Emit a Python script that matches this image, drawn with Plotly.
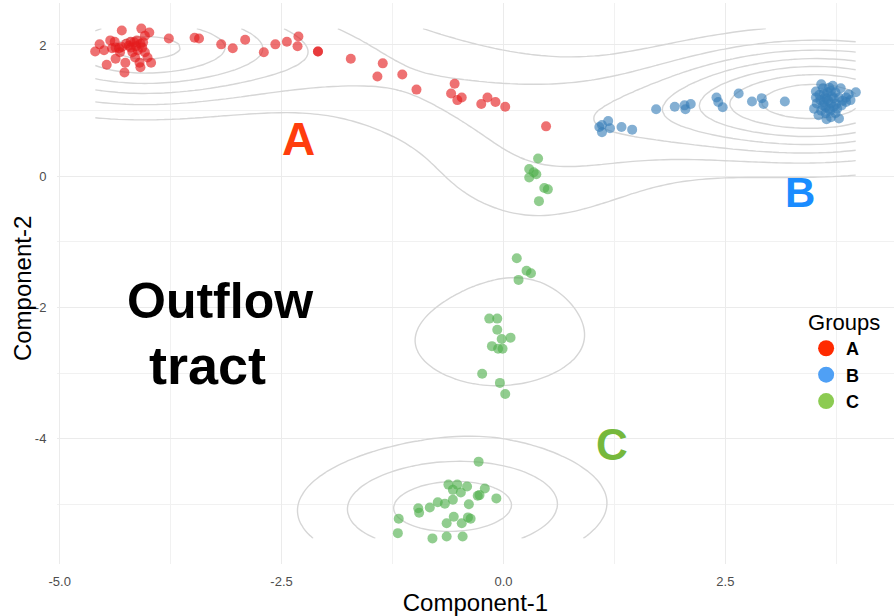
import numpy as np
import plotly.graph_objects as go

# ---------------- data ----------------
a_x = [-4.30, -4.08, -3.99, -4.04, -3.77, -4.55, -4.60, -4.43, -4.38, -4.37, -4.33, -4.22,
       -4.16, -4.13, -4.09, -4.18, -4.15, -4.10, -4.09, -4.04, -4.01, -3.97, -4.26, -4.37,
       -4.47, -4.27, -4.41, -4.20, -4.32, -4.07, -4.50, -4.14, -4.25, -4.12, -4.20, -4.06,
       -4.30,
       -3.48, -3.43, -3.18, -3.05, -2.91, -2.70, -2.57, -2.44, -2.31, -2.32, -2.09, -2.09,
       -1.72, -1.36, -1.42, -1.14, -0.98, -0.55, -0.59, -0.47, -0.52, -0.25, -0.18, -0.09,
       0.02, 0.48]
a_y = [2.22, 2.25, 2.19, 2.14, 2.10, 2.01, 1.90, 2.07, 2.05, 1.96, 1.95, 1.99,
       2.04, 2.07, 2.02, 1.89, 1.81, 1.73, 1.66, 1.89, 1.81, 1.73, 1.73, 1.79,
       1.70, 1.58, 1.95, 1.96, 1.89, 1.96, 1.92, 1.98, 2.02, 1.92, 2.05, 2.04,
       1.97,
       2.11, 2.10, 2.01, 1.95, 2.08, 1.89, 2.01, 2.05, 2.13, 1.98, 1.90, 1.90,
       1.79, 1.72, 1.52, 1.55, 1.32, 1.41, 1.26, 1.20, 1.16, 1.10, 1.20, 1.13,
       1.06, 0.76]

b_x = [1.08, 1.11, 1.18, 1.20, 1.11, 1.33, 1.45, 1.72, 1.93, 2.04, 2.11, 2.05, 2.40, 2.42,
       2.47, 2.65, 2.80, 2.91, 2.93, 3.17,
       3.58, 3.67, 3.52, 3.61, 3.74, 3.78, 3.89, 3.97, 3.86, 3.81, 3.53, 3.61, 3.69, 3.58,
       3.63, 3.69, 3.74, 3.55, 3.76, 3.63, 3.72, 3.52, 3.91, 3.86, 3.78, 3.64, 3.62, 3.67,
       3.71, 3.60, 3.50, 3.80, 3.65, 3.57, 3.66, 3.70, 3.60, 3.75, 3.68, 3.64, 3.72, 3.56,
       3.82, 3.69]
b_y = [0.75, 0.78, 0.84, 0.73, 0.67, 0.75, 0.71, 1.02, 1.06, 1.08, 1.10, 1.02, 1.20, 1.13,
       1.05, 1.26, 1.14, 1.19, 1.10, 1.14,
       1.40, 1.35, 1.29, 1.26, 1.28, 1.20, 1.25, 1.28, 1.13, 1.08, 1.11, 1.13, 1.11, 1.00,
       0.96, 0.90, 0.96, 0.93, 1.03, 1.05, 1.19, 1.20, 1.16, 1.20, 0.88, 0.87, 1.20, 1.03,
       1.38, 1.34, 1.03, 1.34, 1.28, 1.16, 1.15, 1.22, 1.08, 1.10, 1.00, 1.18, 1.06, 1.24,
       1.15, 1.30]

c_x = [0.39, 0.29, 0.34, 0.37, 0.29, 0.46, 0.50, 0.40,
       0.15, 0.26, 0.31, 0.17, -0.16, -0.07, -0.07, -0.02, 0.08, -0.13, -0.06, -0.01,
       -0.24, -0.04, 0.02,
       -0.28, -0.62, -0.52, -0.41, -0.57, -0.48, -0.21, -0.29, -0.27, -0.08, -0.57, -0.74,
       -0.66, -0.39, -0.83, -0.96, -0.95, -1.18, -0.56, -0.40, -0.37, -0.64, -0.47, -1.19,
       -0.80, -0.64, -0.46]
c_y = [0.27, 0.11, 0.06, 0.03, -0.02, -0.18, -0.20, -0.38,
       -1.25, -1.44, -1.48, -1.58, -2.17, -2.17, -2.34, -2.48, -2.46, -2.59, -2.63, -2.63,
       -3.01, -3.15, -3.32,
       -4.35, -4.70, -4.70, -4.73, -4.78, -4.82, -4.76, -4.87, -4.86, -4.91, -4.93, -4.97,
       -4.99, -5.00, -5.05, -5.06, -5.13, -5.22, -5.19, -5.20, -5.22, -5.29, -5.29, -5.44,
       -5.52, -5.49, -5.49]

groups = ["A", "B", "C"]
x_ticks = [-5.0, -2.5, 0.0, 2.5]
x_ticklabels = ["-5.0", "-2.5", "0.0", "2.5"]
y_ticks = [-4, -2, 0, 2]
y_ticklabels = ["-4", "-2", "0", "2"]

# ---------------- styles ----------------
point_colors = {"A": "#E41A1C", "B": "#377EB8", "C": "#4DAF4A"}
legend_colors = {"A": "#FF2A00", "B": "#4FA0F5", "C": "#8CCB52"}
FONT = "Liberation Sans, Arial, Helvetica, sans-serif"

# ---------------- 2D density (kde2d-like) on all points ----------------
all_x = np.array(a_x + b_x + c_x)
all_y = np.array(a_y + b_y + c_y)
n = len(all_x)
sx, sy = 1.05, 0.55  # kernel standard deviations
gx = np.linspace(all_x.min(), all_x.max(), 100)
gy = np.linspace(all_y.min(), all_y.max(), 100)


def phi(u):
    return np.exp(-0.5 * u * u) / np.sqrt(2 * np.pi)


kx = phi((gx[:, None] - all_x[None, :]) / sx)
ky = phi((gy[:, None] - all_y[None, :]) / sy)
z = (ky @ kx.T) / (n * sx * sy)  # shape (ny, nx)


def pretty_step(lo, hi, nint=10, h=1.5):
    cell = (hi - lo) / nint
    U = 10 ** np.floor(np.log10(cell))
    unit = U
    h5 = 0.5 + 1.5 * h
    if 2 * U - cell < h * (cell - unit):
        unit = 2 * U
        if 5 * U - cell < h5 * (cell - unit):
            unit = 5 * U
            if 10 * U - cell < h * (cell - unit):
                unit = 10 * U
    return unit


step = pretty_step(z.min(), z.max())

fig = go.Figure()
fig.add_trace(go.Contour(
    x=gx, y=gy, z=z, autocontour=False,
    contours=dict(start=step, end=z.max(), size=step, coloring="none"),
    line=dict(color="#d6d6d6", width=1.4),
    showscale=False, hoverinfo="skip", showlegend=False,
))

for g, xs, ys in zip(groups, [a_x, b_x, c_x], [a_y, b_y, c_y]):
    fig.add_trace(go.Scatter(
        x=xs, y=ys, mode="markers", showlegend=False,
        marker=dict(color=point_colors[g], size=10, opacity=0.62, line=dict(width=0)),
    ))

for g in groups:
    fig.add_trace(go.Scatter(
        x=[None], y=[None], mode="markers", name=f"<b>{g}</b>",
        marker=dict(color=legend_colors[g], size=16),
    ))

annos = [
    dict(text="<b>A</b>", x=-2.31, y=0.57, size=46, color="#FF3D0D"),
    dict(text="<b>B</b>", x=3.34, y=-0.25, size=42, color="#1A8CFF"),
    dict(text="<b>C</b>", x=1.22, y=-4.09, size=44, color="#76B83C"),
    dict(text="<b>Outflow</b>", x=-3.19, y=-1.90, size=50, color="#000000"),
    dict(text="<b>tract</b>", x=-3.33, y=-2.87, size=54, color="#000000"),
]
for a in annos:
    fig.add_annotation(x=a["x"], y=a["y"], xref="x", yref="y", text=a["text"],
                       showarrow=False, font=dict(size=a["size"], color=a["color"], family=FONT))

# y-axis title placed as rotated text (sits closer to the tick labels than an axis title can)
fig.add_annotation(x=-0.0418, y=0.49, xref="paper", yref="paper", text="Component-2",
                   textangle=-90, showarrow=False, xanchor="center", yanchor="middle",
                   font=dict(size=24, color="black", family=FONT))

grid = "#ebebeb"
fig.update_layout(
    width=894, height=616,
    margin=dict(l=57, r=0, t=3, b=52, autoexpand=False),
    plot_bgcolor="white", paper_bgcolor="white",
    font=dict(family=FONT),
    legend=dict(
        x=0.895, y=0.468, xanchor="left", yanchor="top",
        title=dict(text="Groups", font=dict(size=22, color="black", family=FONT)),
        font=dict(size=18, color="black", family=FONT),
        bgcolor="rgba(0,0,0,0)", itemsizing="trace", tracegroupgap=0,
    ),
    xaxis=dict(
        range=[-5.03, 4.40], tickmode="array", tickvals=x_ticks, ticktext=x_ticklabels,
        showgrid=True, gridcolor=grid, gridwidth=1.1, zeroline=False, showline=False,
        ticks="outside", ticklen=5, tickcolor="rgba(0,0,0,0)",
        tickfont=dict(size=13, color="#4d4d4d"),
        title=dict(text="Component-1", font=dict(size=24, color="black"), standoff=3),
        minor=dict(tickmode="array", tickvals=[-3.75, -1.25, 1.25, 3.75], showgrid=True,
                   gridcolor="#f1f1f1", gridwidth=0.8),
    ),
    yaxis=dict(
        range=[-5.91, 2.64], tickmode="array", tickvals=y_ticks, ticktext=y_ticklabels,
        showgrid=True, gridcolor=grid, gridwidth=1.1, zeroline=False, showline=False,
        ticks="outside", ticklen=7, tickcolor="rgba(0,0,0,0)",
        tickfont=dict(size=13, color="#4d4d4d"),
        minor=dict(tickmode="array", tickvals=[-5, -3, -1, 1], showgrid=True,
                   gridcolor="#f1f1f1", gridwidth=0.8),
    ),
)

fig.write_html("out.html")
